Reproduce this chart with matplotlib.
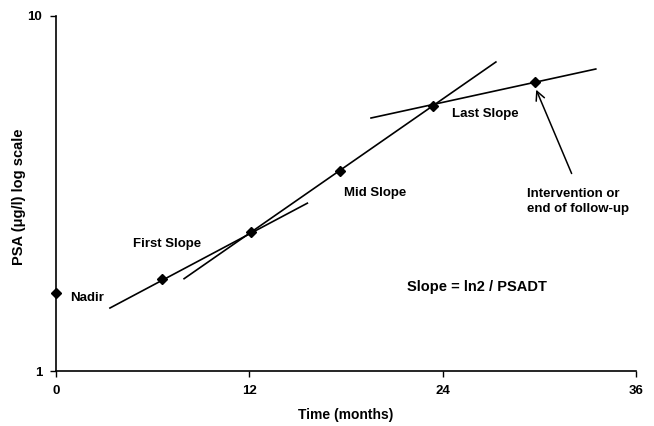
import matplotlib
matplotlib.use("Agg")
import matplotlib.pyplot as plt

plt.rcParams['font.family'] = ['Liberation Sans', 'DejaVu Sans']
plt.rcParams['font.weight'] = 'bold'

# PSA measurements (months, ug/l)
months = [0.0, 6.6, 12.1, 17.6, 23.4, 29.7]
psa = [1.66, 1.82, 2.46, 3.66, 5.58, 6.52]

# fitted slope segments: (x start, x end), (y start, y end)
first_x = [3.35, 15.6]
first_y = [1.505, 2.97]
mid_x = [7.95, 27.3]
mid_y = [1.82, 7.42]
last_x = [19.55, 33.5]
last_y = [5.16, 7.09]

xticks = [0, 12, 24, 36]
yticks = [1, 10]


def main():
    fig = plt.figure(figsize=(6.54, 4.26), dpi=100)
    ax = fig.add_axes([0.0856, 0.129, 0.887, 0.8335])

    ax.plot(first_x, first_y, color='black', lw=1.2)
    ax.plot(mid_x, mid_y, color='black', lw=1.2)
    ax.plot(last_x, last_y, color='black', lw=1.2)
    ax.plot(months, psa, ls='none', marker='D', ms=5.5, color='black',
            clip_on=False, zorder=5)

    ax.set_yscale('log')
    ax.set_xlim(0, 36)
    ax.set_ylim(1, 10)
    ax.set_xticks(xticks)
    ax.set_xticklabels([str(t) for t in xticks])
    ax.set_yticks(yticks)
    ax.set_yticklabels([str(t) for t in yticks])
    ax.minorticks_off()
    ax.tick_params(direction='out', length=4, width=1, labelsize=9.5, pad=6)

    for s in ['top', 'right']:
        ax.spines[s].set_visible(False)
    for s in ['left', 'bottom']:
        ax.spines[s].set_linewidth(1.2)

    ax.set_xlabel('Time (months)', fontsize=10, fontweight='bold')
    ax.xaxis.set_label_coords(0.5, -0.105)
    ax.set_ylabel('PSA (\u03bcg/l) log scale', fontsize=10.5, fontweight='bold')
    ax.yaxis.set_label_coords(-0.052, 0.49)

    fs = 9.5
    ax.text(0.87, 1.61, 'Nadir', fontsize=fs, va='center', ha='left')
    ax.text(4.8, 2.28, 'First Slope', fontsize=fs, va='center', ha='left')
    ax.text(17.9, 3.17, 'Mid Slope', fontsize=fs, va='center', ha='left')
    ax.text(24.6, 5.30, 'Last Slope', fontsize=fs, va='center', ha='left')
    ax.text(29.2, 3.0, 'Intervention or\nend of follow-up', fontsize=fs,
            va='center', ha='left', linespacing=1.4)
    ax.text(26.1, 1.72, 'Slope = ln2 / PSADT', fontsize=10.5, va='center', ha='center')

    ax.annotate('', xy=(29.8, 6.2), xytext=(32.0, 3.6),
                arrowprops=dict(arrowstyle='->', color='black', lw=1.1,
                                mutation_scale=16, shrinkA=0, shrinkB=0))

    fig.savefig('out.png', dpi=100)


if __name__ == "__main__":
    main()
